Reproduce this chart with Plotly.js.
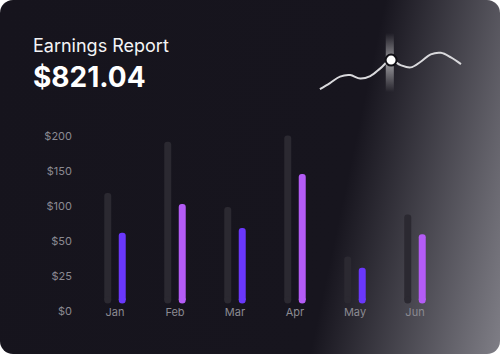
<!DOCTYPE html>
<html>
<head>
<meta charset="utf-8">
<script src="https://cdn.plot.ly/plotly-3.0.1.min.js"></script>
<style>
  html, body { margin: 0; padding: 0; background: #ffffff; }
  #card {
    width: 500px; height: 354px; border-radius: 13px; overflow: hidden;
    background: linear-gradient(102deg, #16141d 0%, #17151e 67%, #7f7e86 100%);
  }
  #chart { width: 500px; height: 354px; }
</style>
</head>
<body>
<div id="card"><div id="chart"></div></div>
<script>
// ---- data ----
const months = ['Jan', 'Feb', 'Mar', 'Apr', 'May', 'Jun'];
const previousValues = [103, 176, 83, 185, 31, 72];   // grey bars ($)
const currentValues  = [48, 87, 53, 130, 23, 47];     // purple bars ($)
const yTickDollars = [0, 25, 50, 100, 150, 200];
const yTickLabels  = ['$0', '$25', '$50', '$100', '$150', '$200'];
const sparkX = [0, 1, 2, 3, 4, 5, 6, 7, 8, 9, 10, 11, 12, 13, 14];
const sparkValues = [11, 17, 23.5, 25, 21.5, 24, 31.7, 40, 35, 32.7, 38.3, 45.7, 47.3, 42.7, 36];
const highlightIndex = 7;
const titleText = 'Earnings Report';
const totalText = '$821.04';

// ---- styles ----
const greyColor = '#2b2931';
const purpleColors = ['#6a37fb', '#b45cf6', '#6a37fb', '#b45cf6', '#6a37fb', '#b45cf6'];
const labelColor = '#8b8a92';

// piecewise scale matching the equally spaced, non-linear tick labels
function toAxis(d) {
  for (let i = 1; i < yTickDollars.length; i++) {
    if (d <= yTickDollars[i] || i === yTickDollars.length - 1) {
      const a = yTickDollars[i - 1], b = yTickDollars[i];
      return (i - 1) + (d - a) / (b - a);
    }
  }
}
const prevU = previousValues.map(toAxis);
const currU = currentValues.map(toAxis);
const zeros = months.map(() => 0);

const traces = [
  { type: 'bar', x: months, y: prevU, marker: { color: greyColor, cornerradius: '50%' },
    offsetgroup: 'a', hoverinfo: 'skip' },
  { type: 'bar', x: months, y: currU, marker: { color: purpleColors, cornerradius: '50%' },
    offsetgroup: 'b', hoverinfo: 'skip' },
  { type: 'scatter', mode: 'markers', x: months, y: zeros, offsetgroup: 'a', cliponaxis: false,
    marker: { color: greyColor, size: 7, line: { width: 0 } }, hoverinfo: 'skip' },
  { type: 'scatter', mode: 'markers', x: months, y: zeros, offsetgroup: 'b', cliponaxis: false,
    marker: { color: purpleColors, size: 7, line: { width: 0 } }, hoverinfo: 'skip' },
  // highlight band
  { type: 'scatter', xaxis: 'x2', yaxis: 'y2', mode: 'lines',
    x: [sparkX[highlightIndex] - 0.4, sparkX[highlightIndex] + 0.4, sparkX[highlightIndex] + 0.4, sparkX[highlightIndex] - 0.4, sparkX[highlightIndex] - 0.4],
    y: [8, 8, 67, 67, 8], fill: 'toself', line: { width: 0 },
    fillgradient: { type: 'vertical',
      colorscale: [[0, 'rgba(255,255,255,0)'], [0.45, 'rgba(255,255,255,0.5)'], [0.6, 'rgba(255,255,255,0.45)'], [1, 'rgba(255,255,255,0)']] },
    hoverinfo: 'skip' },
  // sparkline
  { type: 'scatter', xaxis: 'x2', yaxis: 'y2', mode: 'lines', x: sparkX, y: sparkValues,
    line: { color: '#d9d9dc', width: 2, shape: 'spline', smoothing: 1 }, hoverinfo: 'skip' },
  { type: 'scatter', xaxis: 'x2', yaxis: 'y2', mode: 'markers',
    x: [sparkX[highlightIndex]], y: [sparkValues[highlightIndex]],
    marker: { color: '#ffffff', size: 11, line: { color: '#111016', width: 2 } }, hoverinfo: 'skip' }
];

const layout = {
  width: 500, height: 354,
  margin: { l: 20, r: 20, t: 20, b: 54 },
  paper_bgcolor: 'rgba(0,0,0,0)', plot_bgcolor: 'rgba(0,0,0,0)',
  showlegend: false,
  barmode: 'group', bargap: 0.517, bargroupgap: 0.517,
  scattermode: 'group', scattergap: 0.517,
  font: { family: 'Inter, "Noto Sans", sans-serif', color: labelColor, size: 11 },
  xaxis: { domain: [0.1413, 0.9239], type: 'category', showgrid: false, zeroline: false, showline: false,
    ticks: '', ticklabelstandoff: 4, tickfont: { size: 11, color: labelColor }, fixedrange: true },
  yaxis: { domain: [0, 0.6786], range: [0, 5.4286], showgrid: false, zeroline: false, showline: false,
    tickvals: yTickDollars.map(toAxis), ticktext: yTickLabels, ticks: '',
    ticklabelshift: 11, ticklabelstandoff: 12, tickfont: { size: 11, color: labelColor }, fixedrange: true },
  xaxis2: { domain: [0.641, 0.9696], range: [-0.5, 14.5], anchor: 'y2', visible: false, fixedrange: true },
  yaxis2: { domain: [0.714, 0.964], range: [0, 70], anchor: 'x2', visible: false, fixedrange: true },
  annotations: [
    { xref: 'paper', yref: 'paper', x: 0.024, y: 0.9107, xanchor: 'left', yanchor: 'middle',
      text: titleText, showarrow: false, font: { family: 'Inter, sans-serif', size: 18, color: '#f4f4f6' } },
    { xref: 'paper', yref: 'paper', x: 0.024, y: 0.796, xanchor: 'left', yanchor: 'middle',
      text: '<b>' + totalText + '</b>', showarrow: false, font: { family: 'Inter, sans-serif', size: 28, color: '#ffffff' } }
  ]
};

Plotly.newPlot('chart', traces, layout, { displayModeBar: false, staticPlot: true });
</script>
</body>
</html>
